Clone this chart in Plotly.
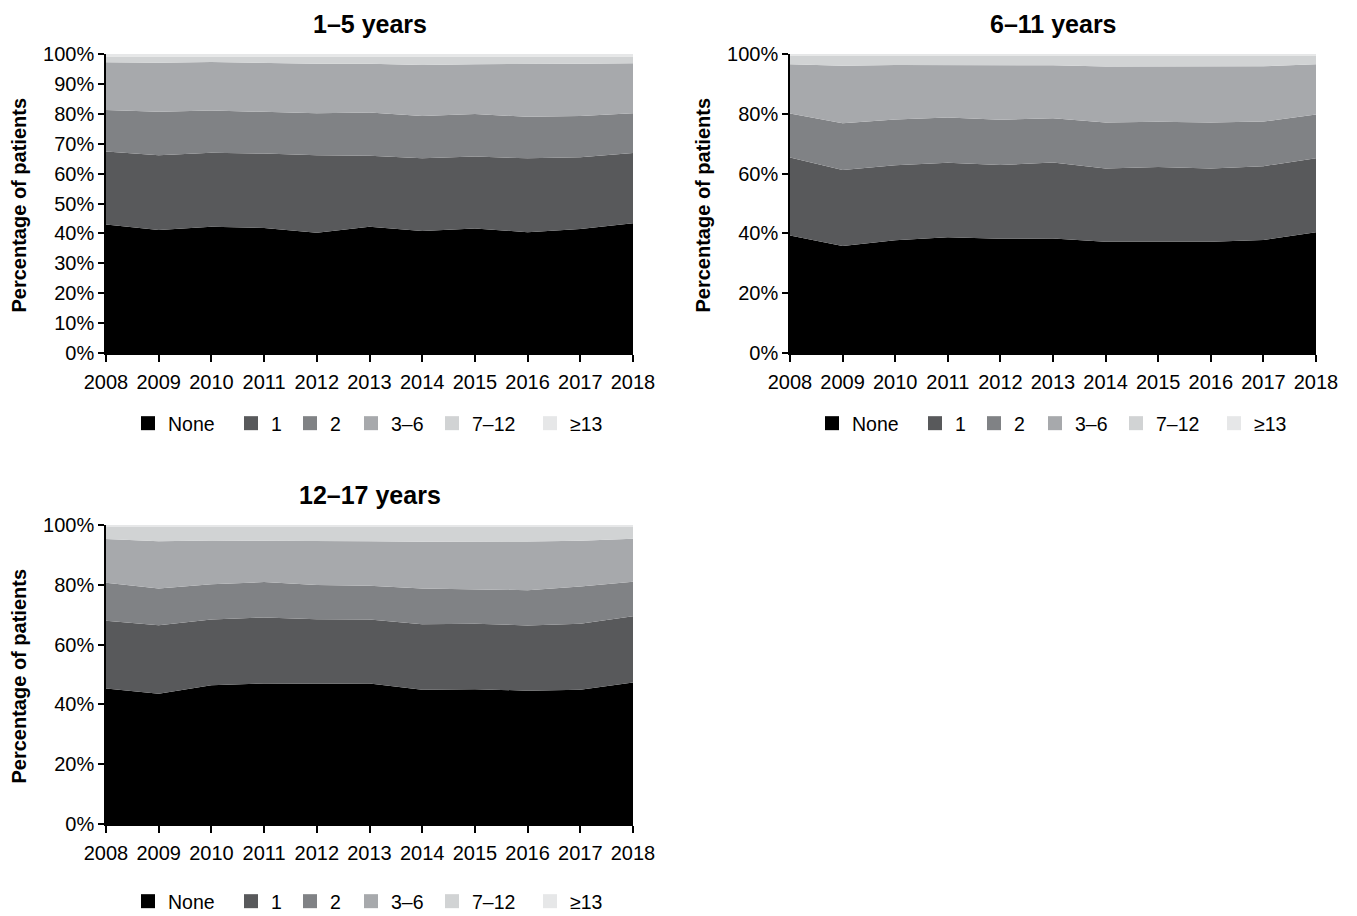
import plotly.graph_objects as go

years = list(range(2008, 2019))
categories = ["None", "1", "2", "3–6", "7–12", "≥13"]
colors = ["#000000", "#58595b", "#808285", "#a7a9ac", "#d1d3d4", "#e6e7e8"]

# Panel 1: 1–5 years (percent of patients per category)
p1_none = [43.0, 41.1, 42.2, 41.8, 40.2, 42.2, 40.8, 41.6, 40.4, 41.5, 43.4]
p1_one = [24.4, 25.0, 24.8, 24.9, 25.9, 23.8, 24.3, 24.1, 24.7, 24.0, 23.5]
p1_two = [13.9, 14.6, 14.1, 14.0, 14.1, 14.4, 14.2, 14.2, 13.9, 13.8, 13.3]
p1_three6 = [15.9, 16.4, 16.2, 16.2, 16.5, 16.3, 17.0, 16.7, 17.6, 17.4, 16.7]
p1_seven12 = [2.0, 2.1, 1.9, 2.3, 2.5, 2.5, 2.9, 2.6, 2.6, 2.5, 2.3]
p1_ge13 = [0.8, 0.8, 0.8, 0.8, 0.8, 0.8, 0.8, 0.8, 0.8, 0.8, 0.8]

# Panel 2: 6–11 years
p2_none = [39.3, 35.8, 37.7, 38.7, 38.2, 38.3, 37.2, 37.2, 37.2, 37.8, 40.4]
p2_one = [26.1, 25.4, 25.1, 24.9, 24.7, 25.4, 24.5, 25.0, 24.5, 24.7, 24.7]
p2_two = [14.7, 15.6, 15.3, 15.2, 15.1, 14.8, 15.4, 15.1, 15.4, 14.9, 14.7]
p2_three6 = [16.5, 19.3, 18.2, 17.5, 18.2, 17.7, 18.7, 18.5, 18.7, 18.5, 16.8]
p2_seven12 = [2.9, 3.4, 3.2, 3.2, 3.3, 3.3, 3.7, 3.7, 3.7, 3.6, 2.9]
p2_ge13 = [0.5, 0.5, 0.5, 0.5, 0.5, 0.5, 0.5, 0.5, 0.5, 0.5, 0.5]

# Panel 3: 12–17 years
p3_none = [45.3, 43.6, 46.4, 47.0, 46.9, 47.0, 44.9, 45.1, 44.6, 44.9, 47.3]
p3_one = [22.7, 22.9, 22.0, 22.1, 21.6, 21.4, 21.9, 21.9, 21.8, 22.1, 22.2]
p3_two = [12.7, 12.3, 11.8, 11.8, 11.4, 11.3, 12.0, 11.5, 11.8, 12.4, 11.5]
p3_three6 = [14.6, 15.8, 14.6, 13.9, 14.8, 14.9, 15.6, 15.9, 16.3, 15.3, 14.4]
p3_seven12 = [4.0, 4.7, 4.5, 4.5, 4.6, 4.7, 4.9, 4.9, 4.8, 4.6, 3.9]
p3_ge13 = [0.7, 0.7, 0.7, 0.7, 0.7, 0.7, 0.7, 0.7, 0.7, 0.7, 0.7]

panel_titles = ["1–5 years", "6–11 years", "12–17 years"]
y_title = "Percentage of patients"

panels = [
    [p1_none, p1_one, p1_two, p1_three6, p1_seven12, p1_ge13],
    [p2_none, p2_one, p2_two, p2_three6, p2_seven12, p2_ge13],
    [p3_none, p3_one, p3_two, p3_three6, p3_seven12, p3_ge13],
]

W, H = 1357, 916
FONT = "Liberation Sans, Arial, sans-serif"

# plot areas in pixels: (left, right, top, bottom)
boxes = [(106, 633, 54, 353), (790, 1316, 54, 353), (106, 633, 525, 824)]
dticks = [10, 20, 20]
# legend item offsets (px, relative to the plot's left edge) and legend row top
item_offsets = [22, 125, 184, 245, 326, 424]
legend_top = [404, 404, 882]

fig = go.Figure()
axes = [("x", "y"), ("x2", "y2"), ("x3", "y3")]

layout = dict(
    width=W, height=H, margin=dict(l=0, r=0, t=0, b=0, autoexpand=False),
    paper_bgcolor="white", plot_bgcolor="white",
    font=dict(family=FONT, size=20, color="black"),
)

n_leg = 0
for i, series in enumerate(panels):
    xa, ya = axes[i]
    l = boxes[i][0]
    for j, vals in enumerate(series):
        fig.add_trace(go.Scatter(
            x=years, y=vals, name=categories[j], mode="lines",
            line=dict(width=0, color=colors[j]), fillcolor=colors[j],
            stackgroup="s%d" % i, groupnorm="percent",
            xaxis=xa, yaxis=ya, showlegend=False,
            hovertemplate="%{y:.1f}%<extra>" + categories[j] + "</extra>",
        ))
    for j, cat in enumerate(categories):
        n_leg += 1
        lname = "legend" if n_leg == 1 else "legend%d" % n_leg
        fig.add_trace(go.Scatter(
            x=[None], y=[None], name=cat, mode="markers",
            marker=dict(symbol="square", size=14, color=colors[j]),
            xaxis=xa, yaxis=ya, legend=lname, showlegend=True,
        ))
        layout[lname] = dict(
            orientation="h", x=(l + item_offsets[j]) / W, y=1 - legend_top[i] / H,
            xanchor="left", yanchor="top", xref="paper", yref="paper",
            bgcolor="rgba(0,0,0,0)", font=dict(size=19.5, family=FONT),
            itemwidth=30,
        )

annotations = []
for i, (l, r, t, b) in enumerate(boxes):
    sfx = "" if i == 0 else str(i + 1)
    xd = [l / W, r / W]
    yd = [1 - b / H, 1 - t / H]
    layout["xaxis" + sfx] = dict(
        domain=xd, anchor="y" + sfx, range=[2008, 2018], tickmode="array",
        tickvals=years, ticktext=[str(y) for y in years], automargin=False,
        showline=True, linecolor="black", linewidth=1.5,
        ticks="outside", ticklen=7, tickwidth=1.5, tickcolor="black",
        ticklabelstandoff=3,
        showgrid=False, zeroline=False, fixedrange=True,
        tickfont=dict(size=20, family=FONT),
    )
    layout["yaxis" + sfx] = dict(
        domain=yd, anchor="x" + sfx, range=[0, 100], dtick=dticks[i],
        ticksuffix="%", showline=True, linecolor="black", linewidth=1.5,
        automargin=False,
        ticks="outside", ticklen=6, tickwidth=1.5, tickcolor="black",
        showgrid=False, zeroline=False, fixedrange=True,
        tickfont=dict(size=20, family=FONT),
    )
    annotations.append(dict(
        text="<b>%s</b>" % panel_titles[i], x=(l + r) / 2 / W, y=1 - (t - 30) / H,
        xref="paper", yref="paper", showarrow=False, xanchor="center",
        yanchor="middle", font=dict(size=25, family=FONT),
    ))
    annotations.append(dict(
        text="<b>%s</b>" % y_title, x=(l - 88) / W, y=1 - ((t + b) / 2 + 2) / H,
        xref="paper", yref="paper", showarrow=False, xanchor="center",
        yanchor="middle", textangle=-90, font=dict(size=20, family=FONT),
    ))

layout["annotations"] = annotations
fig.update_layout(**layout)
fig.write_html(
    "out.html",
    config={"displayModeBar": False},
    post_script="document.body.style.margin='0';document.body.style.overflow='hidden';",
)
